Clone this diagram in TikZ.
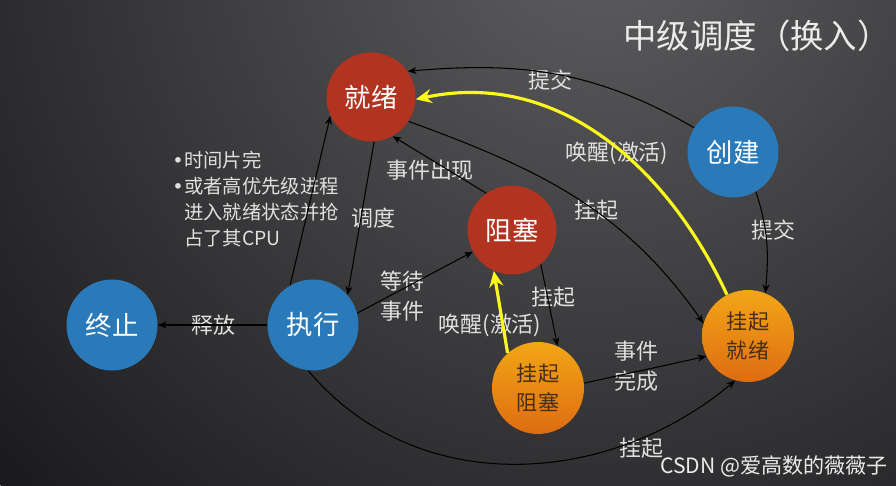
\documentclass[tikz,border=0pt]{standalone}
\usepackage{fontspec}
\setmainfont{Noto Sans CJK SC}
\newfontfamily\dotfont{DejaVu Sans}
\usetikzlibrary{arrows.meta}

\definecolor{bgin}{RGB}{94,94,96}
\definecolor{bgout}{RGB}{26,26,28}
\definecolor{redst}{RGB}{178,52,32}
\definecolor{bluest}{RGB}{42,122,186}
\definecolor{orgtop}{RGB}{242,166,22}
\definecolor{orgbot}{RGB}{222,108,18}
\definecolor{orgtxt}{RGB}{72,46,20}
\definecolor{lbl}{RGB}{224,224,224}
\definecolor{wake}{RGB}{250,248,30}

\newcommand{\bulletmark}{\makebox[0.62em][l]{\dotfont •}}

\begin{document}
\begin{tikzpicture}[x=0.02cm,y=0.02cm,
	redstate/.style={circle,fill=redst,minimum size=1.78cm,inner sep=0pt,text=white,font=\fontsize{15}{18}\selectfont},
	bluestate/.style={circle,fill=bluest,minimum size=1.82cm,inner sep=0pt,text=white,font=\fontsize{15}{18}\selectfont},
	orgstate/.style={circle,top color=orgtop,bottom color=orgbot,minimum size=1.84cm,inner sep=0pt,text=orgtxt,align=center,font=\fontsize{12}{17}\selectfont},
	lab/.style={text=lbl,inner sep=0pt,align=center,font=\fontsize{12.5}{17}\selectfont},
	arr/.style={-{Stealth[length=5pt,width=4pt]},line width=0.6pt,draw=black},
	wakearr/.style={-{Stealth[length=9pt,width=8pt]},line width=1.8pt,draw=wake}]
	% background
	\begin{scope}
		\clip (0,0) rectangle (896,486);
		\shade[inner color=bgin,outer color=bgout] (600,560) circle (820);
	\end{scope}
	\useasboundingbox (0,0) rectangle (896,486);

	\node (title) at (757,450) [text=white!92!black,font=\fontsize{19}{22}\selectfont] {中级调度（换入）};

	\node	(ready) at (371,389) [redstate] {就绪};
	\node	(block) at (512,256) [redstate] {阻塞};
	\node	(create) at (733,334) [bluestate] {创建};
	\node	(term) at (112,161) [bluestate] {终止};
	\node	(run) at (313,161) [bluestate] {执行};
	\node	(sblock) at (538,98) [orgstate] {挂起\\阻塞};
	\node	(sready) at (748,150) [orgstate] {挂起\\就绪};

	\node (note) at (172,287) [anchor=west,text=lbl,align=left,inner sep=0pt,font=\fontsize{11}{14.8}\selectfont]
		{\bulletmark 时间片完\\\bulletmark 或者高优先级进程\\\hspace{0.62em}进入就绪状态并抢\\\hspace{0.62em}占了其CPU};

	\node (l1) at (550,406) [lab] {提交};
	\node (l2) at (617,333) [lab] {唤醒(激活)};
	\node (l3) at (596,276) [lab] {挂起};
	\node (l4) at (773,256) [lab] {提交};
	\node (l5) at (430,316) [lab] {事件出现};
	\node (l6) at (373,268) [lab] {调度};
	\node (l7) at (402,190) [lab] {等待\\事件};
	\node (l8) at (213,161) [lab] {释放};
	\node (l9) at (553,189) [lab] {挂起};
	\node (l10) at (490,161) [lab] {唤醒(激活)};
	\node (l11) at (636,120) [lab] {事件\\完成};
	\node (l12) at (641,38) [lab] {挂起};

	\node (mark) at (774,20) [text=white!92!black,inner sep=0pt,font=\fontsize{12}{14}\selectfont] {CSDN @爱高数的薇薇子};

	\draw
	(create.148) edge[arr,out=150,in=5] (ready.35)
	(create.-60) edge[arr,out=-72,in=85] (sready.68)
	(ready.-33) edge[arr,out=-20,in=125] (sready.164)
	(block.125) edge[arr] (ready.-61)
	(ready.-86) edge[arr] (run.41)
	(run.120) edge[arr] (ready.205)
	(run.15) edge[arr] (block.209)
	(run.180) edge[arr] (term.0)
	(block.-50) edge[arr] (sblock.65)
	(sblock.6) edge[arr] (sready.206)
	(run.-96) edge[arr,out=-50,in=-140] (sready.254)
	;
	\draw
	(sready.117) edge[wakearr,out=115,in=12] (ready.-3)
	(sblock.131) edge[wakearr] (block.246)
	;
\end{tikzpicture}
\end{document}
